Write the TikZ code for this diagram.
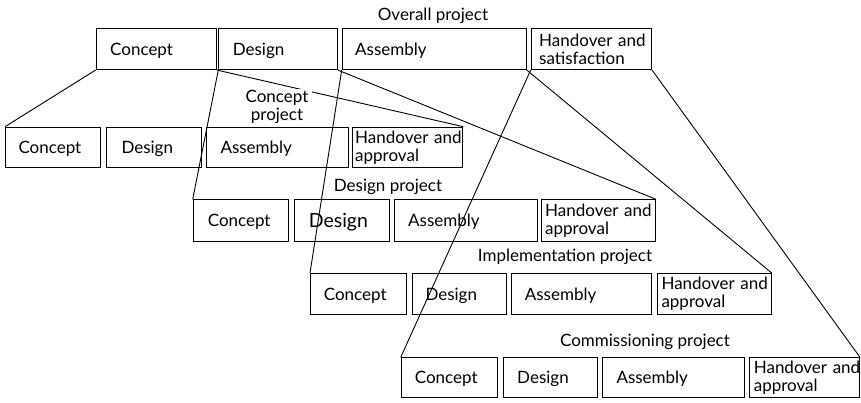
\documentclass[tikz,border=0pt]{standalone}
\usepackage{fontspec}
\setmainfont{Lato}
\newcommand\pbox[8]{%
  \pgfmathsetmacro\tw{#4-2*#6}%
  \node[phase, minimum height=#5pt, text width=\tw pt, inner xsep=#6pt, #8] (#1) at (#2,#3) {#7};}
\begin{document}
\begin{tikzpicture}[x=1pt,y=-1pt,
  phase/.style={draw, line width=1pt, anchor=north west, align=left, inner ysep=0pt,
    font=\fontsize{17}{18}\selectfont},
  one/.style={text depth=0pt},
  conn/.style={line width=0.9pt},
  title/.style={font=\fontsize{17}{18}\selectfont, anchor=base, inner sep=0pt}]
\useasboundingbox (0,0) rectangle (861,402);
% overall project
\pbox{oC}{95.7}{28.3}{120}{40.7}{14}{Concept}{one}
\pbox{oD}{218.3}{28.3}{118.4}{40.7}{14}{Design}{one}
\pbox{oA}{341.7}{28.3}{184}{40.7}{13}{Assembly}{one}
\pbox{oH}{530.7}{28.3}{120.3}{40.7}{8}{\mbox{Handover and}\\satisfaction}{}
% concept project
\pbox{aC}{5}{126.7}{95}{40}{13}{Concept}{one}
\pbox{aD}{106}{126.7}{94.7}{40}{15}{Design}{one}
\pbox{aA}{206}{126.7}{141.7}{40}{14}{Assembly}{one}
\pbox{aH}{351.7}{126.7}{110.6}{40}{3}{\mbox{Handover and}\\approval}{}
% design project
\pbox{bC}{192.7}{199.3}{95.6}{41.4}{14.6}{Concept}{one}
\pbox{bD}{294.3}{199.3}{94.7}{41.4}{14}{{\fontsize{19.5}{20}\selectfont Design}}{one}
\pbox{bA}{394.3}{199.3}{142.4}{41.4}{13.4}{Assembly}{one}
\pbox{bH}{540.7}{199.3}{114.3}{41.4}{4}{\mbox{Handover and}\\approval}{}
% implementation project
\pbox{cC}{310}{273}{95.7}{41}{13.3}{Concept}{one}
\pbox{cD}{411.7}{273}{94}{41}{13.3}{Design}{one}
\pbox{cA}{511}{273}{139.7}{41}{13.3}{Assembly}{one}
\pbox{cH}{656.7}{273}{114}{41}{4.3}{\mbox{Handover and}\\approval}{}
% commissioning project
\pbox{dC}{400.7}{357.3}{96}{39.4}{13.6}{Concept}{one}
\pbox{dD}{502.7}{357.3}{94}{39.4}{14}{Design}{one}
\pbox{dA}{602.3}{357.3}{142}{39.4}{13.7}{Assembly}{one}
\pbox{dH}{749}{357.3}{110}{39.4}{4.3}{\mbox{Handover and}\\approval}{}
% expansion lines
\draw[conn] (oC.south west) -- (aC.north west);
\draw[conn] (oC.south east) -- (aH.north east);
\draw[conn] (oD.south west) -- (bC.north west);
\draw[conn] (oD.south east) -- (bH.north east);
\draw[conn] (oA.south west) -- (cC.north west);
\draw[conn] (oA.south east) -- (cH.north east);
\draw[conn] (oH.south west) -- (dC.north west);
\draw[conn] (oH.south east) -- (dH.north east);
% titles
\node[title] (tO) at (433,20) {Overall project};
\node[font=\fontsize{17}{18}\selectfont, align=center, fill=white, inner xsep=4pt, inner ysep=1pt] (tC) at (277,107) {Concept\\project};
\node[title] (tD) at (388,191) {Design project};
\node[title] (tI) at (565,261) {Implementation project};
\node[title] (tM) at (645,346) {Commissioning project};
\end{tikzpicture}
\end{document}
